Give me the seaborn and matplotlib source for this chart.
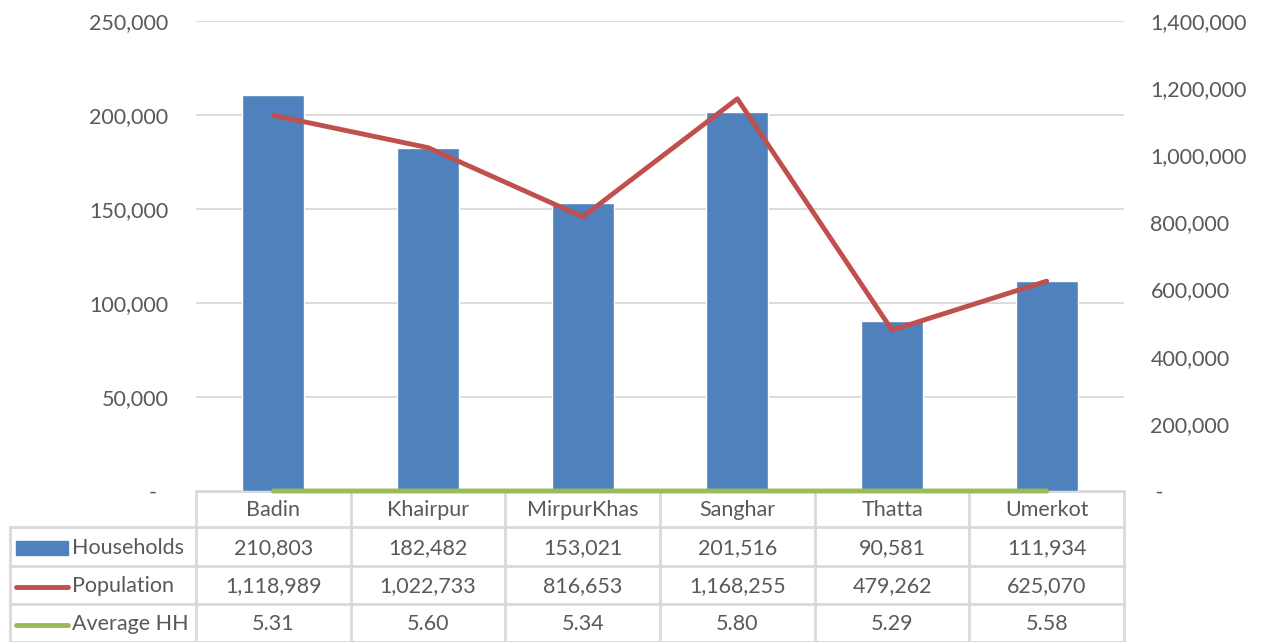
import numpy as np
import pandas as pd
import matplotlib
matplotlib.use('Agg')
import matplotlib.pyplot as plt
import seaborn as sns
from matplotlib.ticker import FuncFormatter

districts = ['Badin', 'Khairpur', 'MirpurKhas', 'Sanghar', 'Thatta', 'Umerkot']
households = [210803, 182482, 153021, 201516, 90581, 111934]
population = [1118989, 1022733, 816653, 1168255, 479262, 625070]
avg_hh = [5.31, 5.60, 5.34, 5.80, 5.29, 5.58]

BLUE = '#4f81bd'
RED = '#c0504d'
GREEN = '#9bbb59'
GRID = '#d9d9d9'
TXT = '#595959'

sns.set_style('white')
plt.rcParams['font.family'] = ['Lato', 'DejaVu Sans']
FS = 15.5

W, H = 1263, 642
fig = plt.figure(figsize=(W / 100, H / 100), dpi=100)

# main plot area in pixel coords
L, R, T, B = 196, 1124, 21, 491
ax = fig.add_axes([L / W, (H - B) / H, (R - L) / W, (B - T) / H])

df = pd.DataFrame({'District': districts, 'Households': households})
sns.barplot(data=df, x='District', y='Households', ax=ax, color=BLUE,
            saturation=1, width=0.4)
sns.lineplot(x=np.arange(6), y=avg_hh, ax=ax, color=GREEN, lw=3.5,
             zorder=5, clip_on=False)
ax.set_xlim(-0.5, 5.5)
ax.set_ylim(0, 250000)
ax.set_yticks(np.arange(0, 250001, 50000))
ax.yaxis.grid(True, color=GRID, lw=1.3)
ax.set_axisbelow(True)
ax.set_xlabel('')
ax.set_ylabel('')
ax.set_xticks([])

fmt = FuncFormatter(lambda v, p: f'{int(v):,}' if v else '-  ')
ax.yaxis.set_major_formatter(fmt)
ax.tick_params(axis='y', length=0, pad=20, labelsize=FS, labelcolor=TXT)
for s in ax.spines.values():
    s.set_visible(False)

ax2 = ax.twinx()
sns.lineplot(x=np.arange(6), y=population, ax=ax2, color=RED, lw=3.5)
ax2.set_ylim(0, 1400000)
ax2.set_yticks(np.arange(0, 1400001, 200000))
ax2.yaxis.set_major_formatter(FuncFormatter(lambda v, p: f'{int(v):,}' if v else ' -'))
ax2.tick_params(axis='y', length=0, pad=19, labelsize=FS, labelcolor=TXT)
ax2.set_ylabel('')
for s in ax2.spines.values():
    s.set_visible(False)

# data table below the plot
TL = 10
tax = fig.add_axes([TL / W, 0, (R - TL) / W, (H - B) / H])
tax.set_zorder(-1)
cw = (R - L) / 6
tax.set_xlim(-0.5 - (L - TL) / cw, 5.5)
tax.set_ylim(H - B, 0)
tax.axis('off')
rows = [0, 36, 75, 113, 151]
left_edge = -0.5 - (L - TL) / cw
lk = dict(color=GRID, lw=2, clip_on=False)
# horizontal lines
tax.plot([-0.5, 5.5], [rows[0], rows[0]], **lk)
for y in rows[1:]:
    tax.plot([left_edge, 5.5], [y, y], **lk)
# vertical lines
for i in range(7):
    tax.plot([i - 0.5, i - 0.5], [rows[0], rows[-1]], **lk)
tax.plot([left_edge, left_edge], [rows[1], rows[-1]], **lk)

def mid(r):
    return (rows[r] + rows[r + 1]) / 2 + 1.5

for i, d in enumerate(districts):
    tax.text(i, mid(0), d, ha='center', va='center', fontsize=FS, color=TXT)
    tax.text(i, mid(1), f'{households[i]:,}', ha='center', va='center', fontsize=FS, color=TXT)
    tax.text(i, mid(2), f'{population[i]:,}', ha='center', va='center', fontsize=FS, color=TXT)
    tax.text(i, mid(3), f'{avg_hh[i]:.2f}', ha='center', va='center', fontsize=FS, color=TXT)

# legend keys in the row headers
px = lambda p: left_edge + (p - TL) / cw
tax.add_patch(plt.Rectangle((px(16), mid(1) - 7), px(68) - px(16), 14,
                            color=BLUE, clip_on=False))
tax.plot([px(16), px(68)], [mid(2), mid(2)], color=RED, lw=3.5,
         solid_capstyle='round', clip_on=False)
tax.plot([px(16), px(68)], [mid(3), mid(3)], color=GREEN, lw=3.5,
         solid_capstyle='round', clip_on=False)
for r, name in zip([1, 2, 3], ['Households', 'Population', 'Average HH']):
    tax.text(px(72), mid(r), name, ha='left', va='center', fontsize=FS, color=TXT)

fig.savefig('out.png', dpi=100)
